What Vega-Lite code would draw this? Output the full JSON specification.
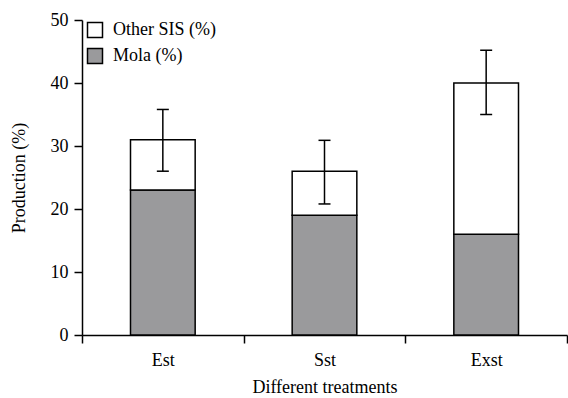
{
  "$schema": "https://vega.github.io/schema/vega-lite/v6.json",
  "width": 485,
  "height": 315,
  "autosize": {"type": "none"},
  "padding": {"left": 82, "top": 20, "right": 1, "bottom": 63},
  "background": "white",
  "config": {
    "view": {"stroke": null},
    "font": "Liberation Serif",
    "axis": {
      "labelFont": "Liberation Serif",
      "titleFont": "Liberation Serif",
      "labelFontSize": 18,
      "titleFontSize": 18,
      "titleFontWeight": "normal",
      "labelColor": "black",
      "titleColor": "black",
      "domainColor": "black",
      "tickColor": "black",
      "domainWidth": 1.5,
      "tickWidth": 1.5,
      "grid": false
    },
    "legend": {
      "labelFont": "Liberation Serif",
      "labelFontSize": 18,
      "labelColor": "black"
    }
  },
  "datasets": {
    "bars": [
      {"treatment": "Est", "component": "Mola (%)", "value": 23, "ord": 1},
      {"treatment": "Est", "component": "Other SIS (%)", "value": 8, "ord": 2},
      {"treatment": "Sst", "component": "Mola (%)", "value": 19, "ord": 1},
      {"treatment": "Sst", "component": "Other SIS (%)", "value": 7, "ord": 2},
      {"treatment": "Exst", "component": "Mola (%)", "value": 16, "ord": 1},
      {"treatment": "Exst", "component": "Other SIS (%)", "value": 24, "ord": 2}
    ],
    "errs": [
      {"treatment": "Est", "lo": 26, "hi": 35.8},
      {"treatment": "Sst", "lo": 20.8, "hi": 30.9},
      {"treatment": "Exst", "lo": 35, "hi": 45.2}
    ]
  },
  "encoding": {
    "x": {
      "field": "treatment",
      "type": "nominal",
      "sort": ["Est", "Sst", "Exst"],
      "scale": {"domain": ["Est", "Sst", "Exst"], "paddingInner": 0, "paddingOuter": 0},
      "axis": {
        "title": "Different treatments",
        "labelAngle": 0,
        "tickBand": "extent",
        "tickSize": 8,
        "labelPadding": 8,
        "titlePadding": 9
      }
    }
  },
  "layer": [
    {
      "data": {"name": "bars"},
      "mark": {"type": "bar", "width": {"band": 0.4}, "stroke": "black", "strokeWidth": 1.5},
      "encoding": {
        "y": {
          "field": "value",
          "type": "quantitative",
          "aggregate": "sum",
          "stack": "zero",
          "scale": {"domain": [0, 50], "nice": false},
          "axis": {
            "title": "Production (%)",
            "values": [0, 10, 20, 30, 40, 50],
            "tickSize": 8,
            "labelPadding": 6,
            "titlePadding": 22
          }
        },
        "color": {
          "field": "component",
          "type": "nominal",
          "scale": {"domain": ["Other SIS (%)", "Mola (%)"], "range": ["white", "#9a9a9c"]},
          "legend": {
            "title": null,
            "orient": "none",
            "legendX": 4,
            "legendY": 1,
            "symbolType": "square",
            "symbolSize": 225,
            "symbolStrokeColor": "black",
            "symbolStrokeWidth": 1.5,
            "symbolOpacity": 1,
            "labelOffset": 9,
            "rowPadding": 4
          }
        },
        "order": {"field": "ord", "type": "quantitative"}
      }
    },
    {
      "data": {"name": "errs"},
      "mark": {"type": "rule", "color": "black", "strokeWidth": 1.5},
      "encoding": {
        "y": {"field": "lo", "type": "quantitative"},
        "y2": {"field": "hi"}
      }
    },
    {
      "data": {"name": "errs"},
      "mark": {"type": "tick", "color": "black", "thickness": 1.5, "size": 12, "orient": "horizontal", "opacity": 1},
      "encoding": {"y": {"field": "lo", "type": "quantitative"}}
    },
    {
      "data": {"name": "errs"},
      "mark": {"type": "tick", "color": "black", "thickness": 1.5, "size": 12, "orient": "horizontal", "opacity": 1},
      "encoding": {"y": {"field": "hi", "type": "quantitative"}}
    }
  ]
}
